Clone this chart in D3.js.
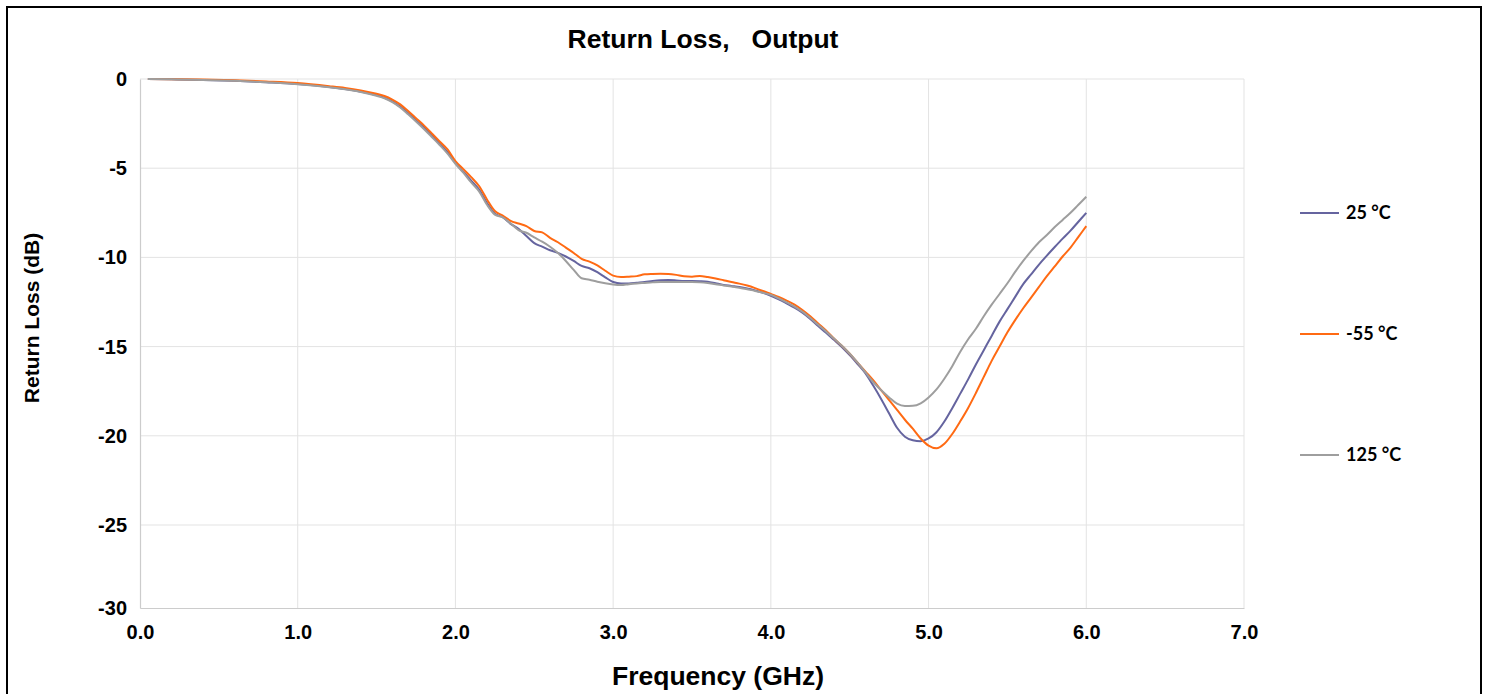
<!DOCTYPE html>
<html>
<head>
<meta charset="utf-8">
<script src="https://cdn.jsdelivr.net/npm/d3@7"></script>
<style>
  body { margin: 0; background: #fff; }
  svg { display: block; font-family: "Liberation Sans", Arial, sans-serif; }
</style>
</head>
<body>
<div id="chart"></div>
<script>
// ---- data ------------------------------------------------------------------
const freqGHz = [
    0.05, 0.2, 0.4, 0.6, 0.8, 1.0, 1.2, 1.3, 1.4,
    1.5, 1.55, 1.6, 1.65, 1.7, 1.75, 1.8, 1.85, 1.9, 1.95,
    2.0, 2.05, 2.1, 2.15, 2.2, 2.25, 2.3, 2.35, 2.4, 2.45, 2.5, 2.55, 2.6, 2.65, 2.7, 2.75, 2.8, 2.85, 2.9, 2.95,
    3.0, 3.05, 3.1, 3.15, 3.2, 3.25, 3.3, 3.35, 3.4, 3.45, 3.5, 3.55, 3.6, 3.65, 3.7, 3.75, 3.8, 3.85, 3.9, 3.95,
    4.0, 4.05, 4.1, 4.15, 4.2, 4.25, 4.3, 4.35, 4.4, 4.45, 4.5, 4.55, 4.6, 4.65, 4.7, 4.75, 4.8, 4.85, 4.9, 4.95,
    5.0, 5.05, 5.1, 5.15, 5.2, 5.25, 5.3, 5.35, 5.4, 5.45, 5.5, 5.55, 5.6, 5.65, 5.7, 5.75, 5.8, 5.85, 5.9, 5.95,
    6.0
];

const rl25 = [
    0, -0.02, -0.05, -0.10, -0.18, -0.28, -0.45, -0.56, -0.71,
    -0.91, -1.05, -1.25, -1.55, -1.92, -2.32, -2.72, -3.17, -3.62, -4.10,
    -4.70, -5.20, -5.70, -6.20, -6.95, -7.55, -7.75, -8.12, -8.40, -8.80, -9.20, -9.40, -9.60, -9.75, -9.95, -10.20, -10.48, -10.61, -10.83, -11.12,
    -11.38, -11.46, -11.46, -11.42, -11.38, -11.32, -11.28, -11.27, -11.29, -11.32, -11.32, -11.33, -11.36, -11.45, -11.54, -11.60, -11.66, -11.74, -11.85, -11.98,
    -12.15, -12.35, -12.58, -12.82, -13.10, -13.45, -13.85, -14.22, -14.62, -15.02, -15.48, -15.98, -16.50, -17.20, -17.95, -18.75, -19.55, -20.05, -20.25, -20.30,
    -20.15, -19.80, -19.20, -18.45, -17.65, -16.85, -16.00, -15.20, -14.40, -13.60, -12.90, -12.20, -11.50, -10.95, -10.40, -9.90, -9.42, -8.95, -8.50, -8.00,
    -7.50
];

const rlMinus55 = [
    0, -0.01, -0.03, -0.07, -0.14, -0.23, -0.40, -0.50, -0.64,
    -0.83, -0.95, -1.15, -1.42, -1.80, -2.20, -2.60, -3.05, -3.50, -3.95,
    -4.60, -5.05, -5.50, -6.00, -6.75, -7.40, -7.65, -7.95, -8.10, -8.25, -8.52, -8.60, -8.90, -9.15, -9.45, -9.75, -10.08, -10.24, -10.45, -10.75,
    -11.02, -11.10, -11.08, -11.05, -10.95, -10.93, -10.92, -10.93, -10.98, -11.06, -11.08, -11.04, -11.10, -11.18, -11.28, -11.38, -11.47, -11.58, -11.72, -11.88,
    -12.05, -12.22, -12.42, -12.65, -12.95, -13.30, -13.70, -14.10, -14.55, -14.95, -15.40, -15.90, -16.40, -16.90, -17.45, -18.00, -18.55, -19.10, -19.60, -20.15,
    -20.55, -20.70, -20.45, -19.90, -19.20, -18.45, -17.60, -16.70, -15.80, -15.00, -14.20, -13.50, -12.85, -12.25, -11.65, -11.05, -10.50, -9.95, -9.45, -8.85,
    -8.25
];

const rl125 = [
    0, -0.02, -0.05, -0.10, -0.18, -0.29, -0.46, -0.58, -0.73,
    -0.94, -1.08, -1.30, -1.60, -1.98, -2.38, -2.80, -3.25, -3.70, -4.18,
    -4.75, -5.25, -5.80, -6.30, -7.05, -7.60, -7.76, -8.10, -8.47, -8.62, -8.88, -9.12, -9.40, -9.75, -10.20, -10.70, -11.17, -11.25, -11.36, -11.45,
    -11.52, -11.55, -11.50, -11.46, -11.43, -11.40, -11.38, -11.38, -11.38, -11.38, -11.38, -11.40, -11.44, -11.50, -11.57, -11.63, -11.70, -11.79, -11.88, -11.98,
    -12.10, -12.30, -12.52, -12.76, -13.05, -13.40, -13.78, -14.15, -14.55, -14.95, -15.40, -15.90, -16.45, -17.00, -17.45, -17.85, -18.20, -18.33, -18.32, -18.18,
    -17.85, -17.40, -16.80, -16.10, -15.30, -14.60, -14.00, -13.30, -12.65, -12.05, -11.45, -10.80, -10.20, -9.65, -9.15, -8.74, -8.30, -7.90, -7.50, -7.05,
    -6.60
];

const seriesNames = ["25 °C", "-55 °C", "125 °C"];
const xTicks = [0, 1, 2, 3, 4, 5, 6, 7];
const yTicks = [0, -5, -10, -15, -20, -25, -30];

// ---- layout ------------------------------------------------------------------
const W = 1488, H = 694;
const colors = ["#65649f", "#ff6a13", "#9e9e9e"];
const legendY = [213, 334, 455];

const svg = d3.select("#chart").append("svg")
    .attr("width", W).attr("height", H)
    .attr("viewBox", `0 0 ${W} ${H}`);

svg.append("rect")
    .attr("x", 7).attr("y", 7)
    .attr("width", 1474).attr("height", 720)
    .attr("fill", "#fff").attr("stroke", "#000").attr("stroke-width", 2);

const x = d3.scaleLinear().domain([0, 7]).range([140, 1244]);
// the picture's bottom band is a little shorter than the others
const y = d3.scaleLinear().domain([0, -25, -30]).range([79, 525, 608]);

// gridlines
svg.append("g")
    .selectAll("line").data(xTicks.slice(1)).join("line")
    .attr("x1", d => x(d)).attr("x2", d => x(d))
    .attr("y1", y(0)).attr("y2", y(-30))
    .attr("stroke", "#e3e3e3").attr("stroke-width", 1);
svg.append("g")
    .selectAll("line").data(yTicks.slice(0, -1)).join("line")
    .attr("x1", x(0)).attr("x2", x(7))
    .attr("y1", d => y(d)).attr("y2", d => y(d))
    .attr("stroke", "#e3e3e3").attr("stroke-width", 1);

// axes (plain hyphen for negatives, as in the picture)
const xAxis = svg.append("g")
    .attr("transform", `translate(0,${y(-30)})`)
    .call(d3.axisBottom(x).tickValues(xTicks).tickFormat(d => d.toFixed(1)).tickSize(0).tickPadding(17));
const yAxis = svg.append("g")
    .attr("transform", `translate(${x(0)},0)`)
    .call(d3.axisLeft(y).tickValues(yTicks).tickFormat(d => String(d)).tickSize(0).tickPadding(13));

[xAxis, yAxis].forEach(a => {
    a.select(".domain").attr("stroke", "#cccccc").attr("stroke-width", 1.2);
    a.selectAll("text")
        .attr("fill", "#000")
        .style("font-family", "'Liberation Sans', Arial, sans-serif")
        .style("font-weight", "bold")
        .style("font-size", "20px");
});

// curves
const line = d3.line()
    .x((d, i) => x(freqGHz[i]))
    .y(d => y(d))
    .curve(d3.curveMonotoneX);

const series = [rl25, rlMinus55, rl125];
svg.append("g")
    .selectAll("path").data(series).join("path")
    .attr("d", d => line(d))
    .attr("fill", "none")
    .attr("stroke", (d, i) => colors[i])
    .attr("stroke-width", 2);

// titles
svg.append("text")
    .attr("x", 703).attr("y", 48)
    .attr("text-anchor", "middle")
    .style("white-space", "pre")
    .style("font-weight", "bold").style("font-size", "26.5px")
    .text("Return Loss,   Output");

svg.append("text")
    .attr("x", 718).attr("y", 685)
    .attr("text-anchor", "middle")
    .style("font-weight", "bold").style("font-size", "26.5px")
    .text("Frequency (GHz)");

svg.append("text")
    .attr("transform", "translate(39,318) rotate(-90)")
    .attr("text-anchor", "middle")
    .style("font-weight", "bold").style("font-size", "21px")
    .text("Return Loss (dB)");

// legend
const legend = svg.append("g")
    .selectAll("g").data(seriesNames).join("g")
    .attr("transform", (d, i) => `translate(1300,${legendY[i]})`);
legend.append("line")
    .attr("x1", 0).attr("x2", 39)
    .attr("stroke", (d, i) => colors[i]).attr("stroke-width", 2);
legend.append("text")
    .attr("x", 46).attr("dy", "0.36em")
    .style("font-family", "Lato, 'Open Sans', sans-serif")
    .style("font-weight", "bold").style("font-size", "18px")
    .text(d => d);
</script>
</body>
</html>
